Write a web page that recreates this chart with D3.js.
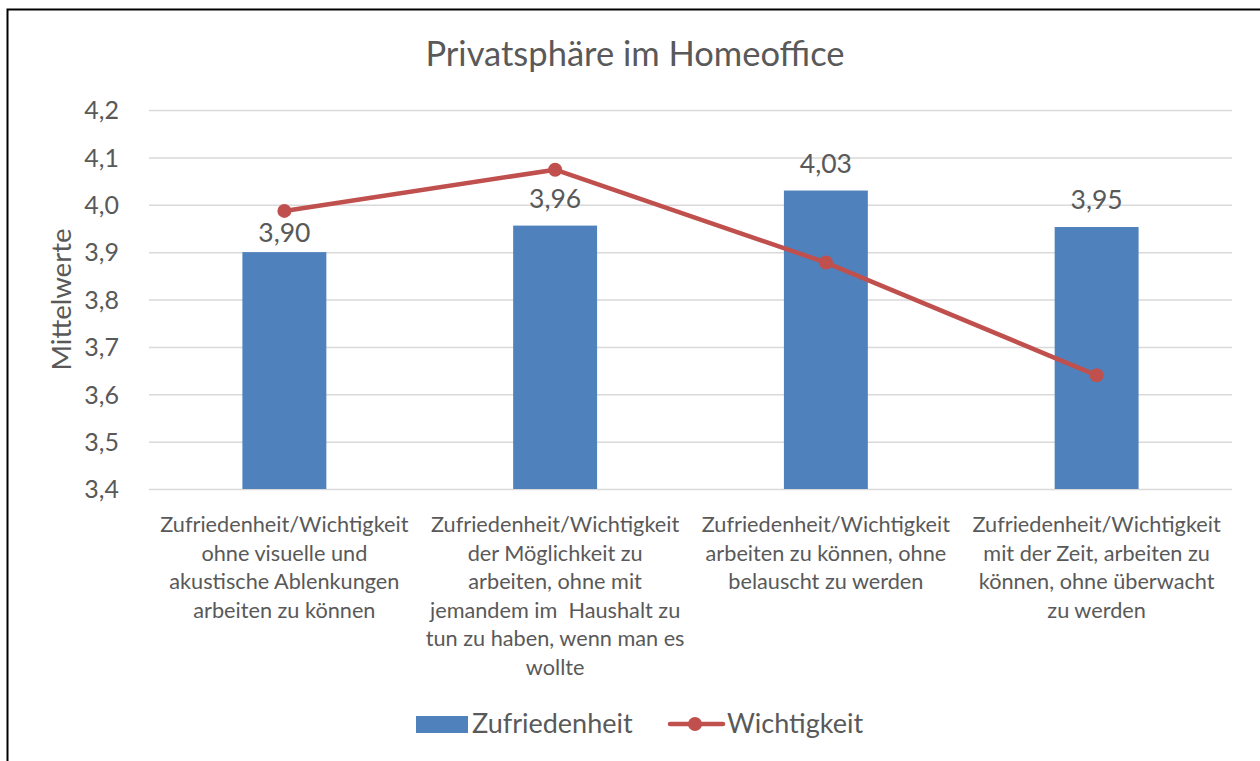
<!DOCTYPE html>
<html>
<head>
<meta charset="utf-8">
<script src="https://cdn.jsdelivr.net/npm/d3@7"></script>
<style>
  body { margin: 0; background: #fff; }
  svg { display: block; font-family: Lato, "Open Sans", sans-serif; }
</style>
</head>
<body>
<div id="chart"></div>
<script>
// Daten
const categories = [
  ["Zufriedenheit/Wichtigkeit", "ohne visuelle und", "akustische Ablenkungen", "arbeiten zu können"],
  ["Zufriedenheit/Wichtigkeit", "der Möglichkeit zu", "arbeiten, ohne mit", "jemandem im  Haushalt zu", "tun zu haben, wenn man es", "wollte"],
  ["Zufriedenheit/Wichtigkeit", "arbeiten zu können, ohne", "belauscht zu werden"],
  ["Zufriedenheit/Wichtigkeit", "mit der Zeit, arbeiten zu", "können, ohne überwacht", "zu werden"]
];
const zufriedenheit = [3.90, 3.956, 4.03, 3.953];
const wichtigkeit = [3.987, 4.074, 3.878, 3.64];
const yTicks = [3.4, 3.5, 3.6, 3.7, 3.8, 3.9, 4.0, 4.1, 4.2];
// Abstand Beschriftung -> Balken (erste Beschriftung näher am Balken)
const labelGap = [10, 18, 18, 18];

const width = 1260, height = 761;
const margin = { top: 110, right: 28, bottom: 272, left: 149 };
const textColor = "#595959";
const barColor = "#4f81bd";
const lineColor = "#c0504d";

const svg = d3.select("#chart").append("svg")
  .attr("width", width)
  .attr("height", height);

// Rahmen (nur links und oben sichtbar)
svg.append("path")
  .attr("d", `M7.5,${height} L7.5,9.5 L${width},9.5`)
  .attr("fill", "none")
  .attr("stroke", "#000")
  .attr("stroke-width", 2);

const x = d3.scaleBand()
  .domain(d3.range(categories.length))
  .range([margin.left, width - margin.right])
  .paddingInner(0.69)
  .paddingOuter(0.345);

const xc = d3.scaleBand()
  .domain(d3.range(categories.length))
  .range([margin.left, width - margin.right]);

const y = d3.scaleLinear()
  .domain([3.4, 4.2])
  .range([height - margin.bottom, margin.top]);

// Gitterlinien
svg.append("g")
  .attr("transform", `translate(${margin.left},0)`)
  .call(d3.axisLeft(y).tickValues(yTicks).tickSize(-(width - margin.left - margin.right)).tickFormat(""))
  .call(g => g.select(".domain").remove())
  .call(g => g.selectAll("line").attr("stroke", "#d9d9d9").attr("stroke-width", 1.5));

// y-Achsenbeschriftung
svg.append("g")
  .attr("transform", `translate(${margin.left - 27},0)`)
  .call(d3.axisLeft(y).tickValues(yTicks).tickSize(0).tickFormat(d => d3.format(".1f")(d).replace(".", ",")))
  .call(g => g.select(".domain").remove())
  .call(g => g.selectAll("text")
    .attr("fill", textColor)
    .attr("font-size", 25)
    .attr("font-family", "Lato, sans-serif")
    .attr("dy", "0.35em"));

// Balken
svg.append("g").selectAll("rect")
  .data(zufriedenheit)
  .join("rect")
  .attr("x", (d, i) => x(i))
  .attr("width", x.bandwidth())
  .attr("y", d => y(d))
  .attr("height", d => y(3.4) - y(d))
  .attr("fill", barColor);

// Datenbeschriftung
svg.append("g").selectAll("text")
  .data(zufriedenheit)
  .join("text")
  .attr("x", (d, i) => x(i) + x.bandwidth() / 2)
  .attr("y", (d, i) => y(d) - labelGap[i])
  .attr("text-anchor", "middle")
  .attr("fill", textColor)
  .attr("font-size", 26.5)
  .text(d => d3.format(".2f")(d).replace(".", ","));

// Linie
const line = d3.line()
  .x((d, i) => xc(i) + xc.bandwidth() / 2)
  .y(d => y(d));

svg.append("path")
  .datum(wichtigkeit)
  .attr("d", line)
  .attr("fill", "none")
  .attr("stroke", lineColor)
  .attr("stroke-width", 4.5)
  .attr("stroke-linejoin", "round");

svg.append("g").selectAll("circle")
  .data(wichtigkeit)
  .join("circle")
  .attr("cx", (d, i) => xc(i) + xc.bandwidth() / 2)
  .attr("cy", d => y(d))
  .attr("r", 7)
  .attr("fill", lineColor);

// Kategorien
const catG = svg.append("g").selectAll("text")
  .data(categories)
  .join("text")
  .attr("text-anchor", "middle")
  .attr("fill", textColor)
  .attr("font-size", 21.7)
  .attr("xml:space", "preserve");
catG.selectAll("tspan")
  .data((d, i) => d.map(t => ({ t, i })))
  .join("tspan")
  .attr("x", d => xc(d.i) + xc.bandwidth() / 2)
  .attr("y", (d, j) => 532 + j * 28.5)
  .text(d => d.t);

// Titel
svg.append("text")
  .attr("x", 635)
  .attr("y", 66)
  .attr("text-anchor", "middle")
  .attr("fill", textColor)
  .attr("font-size", 34.5)
  .text("Privatsphäre im Homeoffice");

// y-Titel
svg.append("text")
  .attr("transform", `translate(71,${(y(3.4) + y(4.2)) / 2}) rotate(-90)`)
  .attr("text-anchor", "middle")
  .attr("fill", textColor)
  .attr("font-size", 27.5)
  .text("Mittelwerte");

// Legende
const legend = svg.append("g");
legend.append("rect")
  .attr("x", 416).attr("y", 716)
  .attr("width", 52).attr("height", 17)
  .attr("fill", barColor);
legend.append("text")
  .attr("x", 472).attr("y", 733)
  .attr("fill", textColor)
  .attr("font-size", 27)
  .text("Zufriedenheit");
legend.append("line")
  .attr("x1", 670).attr("x2", 723)
  .attr("y1", 724).attr("y2", 724)
  .attr("stroke", lineColor)
  .attr("stroke-width", 4.5)
  .attr("stroke-linecap", "round");
legend.append("circle")
  .attr("cx", 695).attr("cy", 724).attr("r", 7)
  .attr("fill", lineColor);
legend.append("text")
  .attr("x", 727).attr("y", 733)
  .attr("fill", textColor)
  .attr("font-size", 27)
  .text("Wichtigkeit");
</script>
</body>
</html>
